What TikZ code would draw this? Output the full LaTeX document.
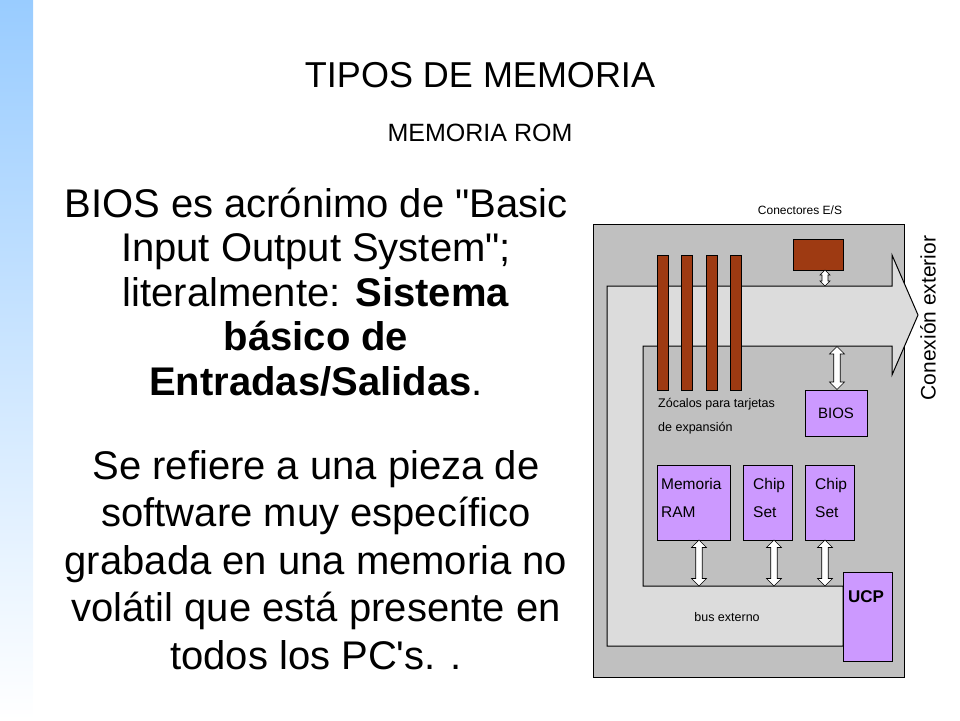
\documentclass[tikz,border=0pt]{standalone}
\usepackage{fontspec}
\setmainfont{Liberation Sans}[Ligatures=TeXOff]
\usetikzlibrary{shapes.arrows}
\definecolor{board}{HTML}{C0C0C0}
\definecolor{bus}{HTML}{DCDCDC}
\definecolor{slot}{HTML}{9E3A12}
\definecolor{chip}{HTML}{CC99FF}
\definecolor{strip}{HTML}{99CCFF}
\begin{document}
\begin{tikzpicture}[x=1pt,y=-1pt,
  chipbox/.style={draw=black,line width=1pt,fill=chip},
  slotbox/.style={draw=black,line width=0.6pt,fill=slot},
  dbl/.style={shape=double arrow,draw=black,fill=white,line width=0.6pt,rotate=90,
    minimum width=15pt,double arrow head extend=3pt,inner sep=2pt,anchor=center},
  lbl/.style={font=\fontsize{15.5}{28}\selectfont,inner sep=0pt,anchor=north west,align=left}]
\useasboundingbox (0,0) rectangle (960,720);
\shade[top color=strip,bottom color=white] (0,0) rectangle (33,720);
% titles
\node (title) at (480,75) {\fontsize{36}{40}\selectfont TIPOS DE MEMORIA};
\node (sub) at (480,133) {\fontsize{25}{28}\selectfont MEMORIA ROM};
\node[align=center,font=\fontsize{40}{44.5}\selectfont] (par1) at (316,292)
  {BIOS es acrónimo de "Basic\\Input Output System";\\literalmente: \textbf{Sistema}\\\textbf{básico de}\\\textbf{Entradas/Salidas}.};
\node[align=center,font=\fontsize{40}{47.5}\selectfont] (par2) at (316,560)
  {Se refiere a una pieza de\\software muy específico\\grabada en una memoria no\\volátil que está presente en\\todos los PC's. .};
% board
\draw[fill=board,line width=0.8pt] (593,224) rectangle (904,677);
\draw[fill=bus,line width=1pt] (607,286) -- (892,286) -- (892,255) -- (918,315) -- (892,375)
  -- (892,346) -- (643,346) -- (643,586) -- (843,586) -- (843,646) -- (607,646) -- cycle;
% slots
\foreach \sx in {657,681,706,730}
  \draw[slotbox] (\sx,255) rectangle ++(11,135);
\draw[slotbox] (793,239) rectangle (843,270);
% chips
\draw[chipbox] (805,390) rectangle (867,436) node[midway,font=\fontsize{15}{18}\selectfont] (bios) {BIOS};
\draw[chipbox] (657,465) rectangle (730,540);
\draw[chipbox] (743,465) rectangle (792,540);
\draw[chipbox] (805,465) rectangle (854,540);
\draw[chipbox] (843,572) rectangle (892,661);
\node[lbl] (ram) at (661,478) {Memoria\\RAM};
\node[lbl] (cs1) at (753,478) {Chip\\Set};
\node[lbl] (cs2) at (815,478) {Chip\\Set};
\node[font=\bfseries\fontsize{17}{20}\selectfont] (ucp) at (866,597) {UCP};
% arrows
\node[dbl,minimum height=16pt,minimum width=10pt,double arrow head extend=1.5pt] at (825,278) {};
\node[dbl,minimum height=43pt] at (837,368) {};
\foreach \ax in {699,774,825}
  \node[dbl,minimum height=46pt] at (\ax,563) {};
% labels
\node[font=\fontsize{12}{14}\selectfont] (con) at (800,210) {Conectores E/S};
\node[font=\fontsize{21}{24}\selectfont,rotate=90] (ext) at (928,318) {Conexión exterior};
\node[lbl,font=\fontsize{12.5}{24}\selectfont] (zoc) at (658,398) {Zócalos para tarjetas\\de expansión};
\node[font=\fontsize{12.5}{14}\selectfont] (busx) at (727,617) {bus externo};
\end{tikzpicture}
\end{document}
